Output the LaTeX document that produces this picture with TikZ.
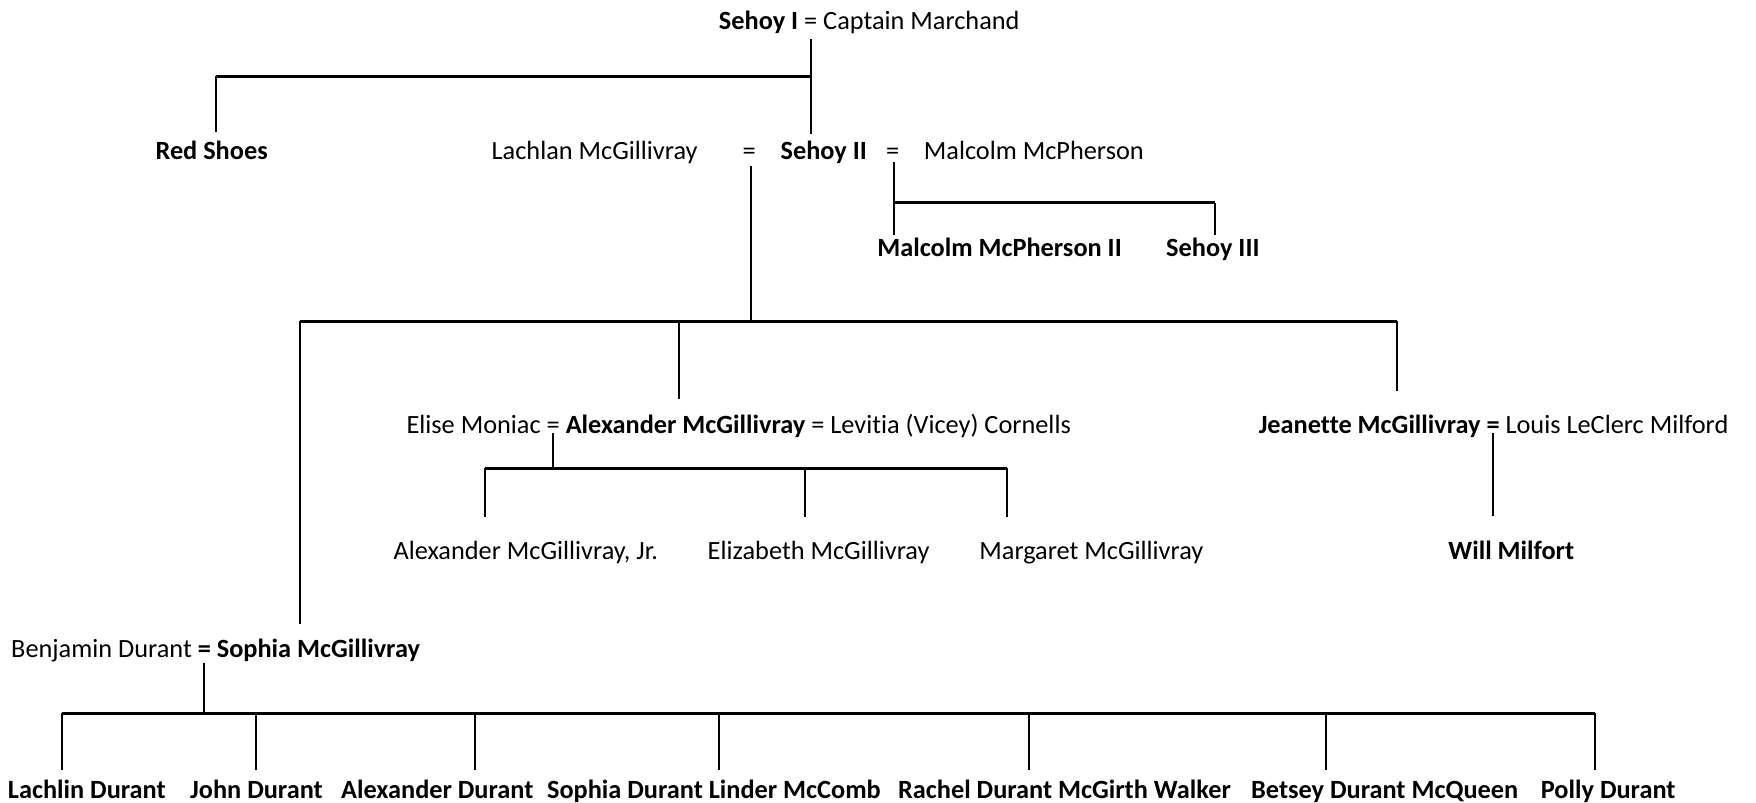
\documentclass[tikz,border=0pt]{standalone}
\usepackage{fontspec}
\setmainfont{Carlito}[Ligatures=NoCommon]
\begin{document}
\begin{tikzpicture}[x=1pt,y=-1pt,
  txt/.style={inner sep=0pt,outer sep=0pt,anchor=base west,text height=16pt,text depth=5pt,font=\fontsize{23.5}{28}\selectfont},
  ctr/.style={txt,anchor=base},
  stem/.style={line width=1.8pt},
  bar/.style={line width=2.6pt}]
\useasboundingbox (0,0) rectangle (1568,717);
% Row 1
\node[txt] (sehoyI) at (642,26) {\textbf{Sehoy I} = Captain Marchand};
% Row 2
\node[ctr] (redshoes) at (189,142) {\textbf{Red Shoes}};
\node[txt] (lachlan) at (439,142) {Lachlan McGillivray};
\node[ctr] (eqL) at (669,142) {=};
\node[txt] (sehoyII) at (697,142) {\textbf{Sehoy II}};
\node[ctr] (eqM) at (797,142) {=};
\node[txt] (mcpherson) at (825,142) {Malcolm McPherson};
% Row 3
\node[ctr] (malcolmII) at (892.5,229) {\textbf{Malcolm McPherson II}};
\node[ctr] (sehoyIII) at (1083,229) {\textbf{Sehoy III}};
% Row 4
\node[txt] (elise) at (363,387) {Elise Moniac};
\node[txt] (eqE) at ([xshift=5.3pt]elise.base east) {=};
\node[txt] (alex) at ([xshift=5.3pt]eqE.base east) {\textbf{Alexander McGillivray}};
\node[txt] (eqV) at ([xshift=5.3pt]alex.base east) {=};
\node[txt] (levitia) at ([xshift=5.3pt]eqV.base east) {Levitia (Vicey) Cornells};
\node[txt] (jeanette) at (1124,387) {\textbf{Jeanette McGillivray}};
\node[txt] (eqJ) at ([xshift=5.3pt]jeanette.base east) {\textbf{=}};
\node[txt] (louis) at ([xshift=5.3pt]eqJ.base east) {Louis LeClerc Milford};
% Row 5
\node[ctr] (alexjr) at (469.5,500) {Alexander McGillivray, Jr.};
\node[ctr] (elizabeth) at (731,500) {Elizabeth McGillivray};
\node[ctr] (margaret) at (974.5,500) {Margaret McGillivray};
\node[ctr] (will) at (1349.5,500) {\textbf{Will Milfort}};
% Row 6
\node[txt] (benjamin) at (10,587) {Benjamin Durant};
\node[txt] (eqB) at ([xshift=5.3pt]benjamin.base east) {\textbf{=}};
\node[txt] (sophia) at ([xshift=5.3pt]eqB.base east) {\textbf{Sophia McGillivray}};
% Row 7
\node[ctr] (lachlin) at (77.5,713) {\textbf{Lachlin Durant}};
\node[ctr] (john) at (229,713) {\textbf{John Durant}};
\node[ctr] (alexd) at (390.5,713) {\textbf{Alexander Durant}};
\node[ctr] (sophiad) at (637.5,713) {\textbf{Sophia Durant Linder McComb}};
\node[ctr] (rachel) at (950.5,713) {\textbf{Rachel Durant McGirth Walker}};
\node[ctr] (betsey) at (1236.5,713) {\textbf{Betsey Durant McQueen}};
\node[ctr] (polly) at (1436,713) {\textbf{Polly Durant}};

% Family of Sehoy I
\coordinate (jA) at (724,68);
\coordinate (jR) at (193,68);
\draw[stem] ([yshift=-4pt]sehoyI.south -| jA) -- ([yshift=6pt]sehoyII.north -| jA);
\draw[bar] (jR) -- (jA);
\draw[stem] (jR) -- ([yshift=8pt]redshoes.north -| jR);

% Family of Lachlan = Sehoy II
\coordinate (jB) at (671,287);
\coordinate (jB1) at (268,287);
\coordinate (jB2) at (606,287);
\coordinate (jB3) at (1247,287);
\draw[stem] ([yshift=-1pt]eqL.south -| jB) -- (jB);
\draw[bar] (jB1) -- (jB3);
\draw[stem] (jB1) -- ([yshift=14pt]sophia.north -| jB1);
\draw[stem] (jB2) -- ([yshift=15pt]alex.north -| jB2);
\draw[stem] (jB3) -- ([yshift=22pt]jeanette.north -| jB3);

% Family of Sehoy II = Malcolm McPherson
\coordinate (jC) at (798,181);
\coordinate (jC2) at (1085,181);
\draw[stem] ([yshift=2pt]eqM.south -| jC) -- ([yshift=3.5pt]malcolmII.north -| jC);
\draw[bar] (jC) -- (jC2);
\draw[stem] (jC2) -- ([yshift=3.5pt]sehoyIII.north -| jC2);

% Family of Alexander McGillivray
\coordinate (jD1) at (433,418);
\coordinate (jD2) at (719,418);
\coordinate (jD3) at (899,418);
\draw[stem] ([yshift=5pt]eqE.south) -- (eqE.south |- jD1);
\draw[bar] (jD1) -- (jD3);
\draw[stem] (jD1) -- ([yshift=22pt]alexjr.north -| jD1);
\draw[stem] (jD2) -- ([yshift=22pt]elizabeth.north -| jD2);
\draw[stem] (jD3) -- ([yshift=22pt]margaret.north -| jD3);

% Family of Jeanette
\draw[stem] ([yshift=5pt]eqJ.south) -- ([yshift=23pt]will.north -| eqJ.south);

% Family of Benjamin Durant = Sophia
\coordinate (jE1) at (55,637);
\coordinate (jE2) at (229,637);
\coordinate (jE3) at (424,637);
\coordinate (jE4) at (642,637);
\coordinate (jE5) at (919,637);
\coordinate (jE6) at (1184,637);
\coordinate (jE7) at (1424,637);
\draw[stem] ([yshift=0pt]eqB.south) -- (eqB.south |- jE1);
\draw[bar] (jE1) -- (jE7);
\draw[stem] (jE1) -- ([yshift=9pt]lachlin.north -| jE1);
\draw[stem] (jE2) -- ([yshift=9pt]john.north -| jE2);
\draw[stem] (jE3) -- ([yshift=9pt]alexd.north -| jE3);
\draw[stem] (jE4) -- ([yshift=9pt]sophiad.north -| jE4);
\draw[stem] (jE5) -- ([yshift=9pt]rachel.north -| jE5);
\draw[stem] (jE6) -- ([yshift=9pt]betsey.north -| jE6);
\draw[stem] (jE7) -- ([yshift=9pt]polly.north -| jE7);
\end{tikzpicture}
\end{document}
